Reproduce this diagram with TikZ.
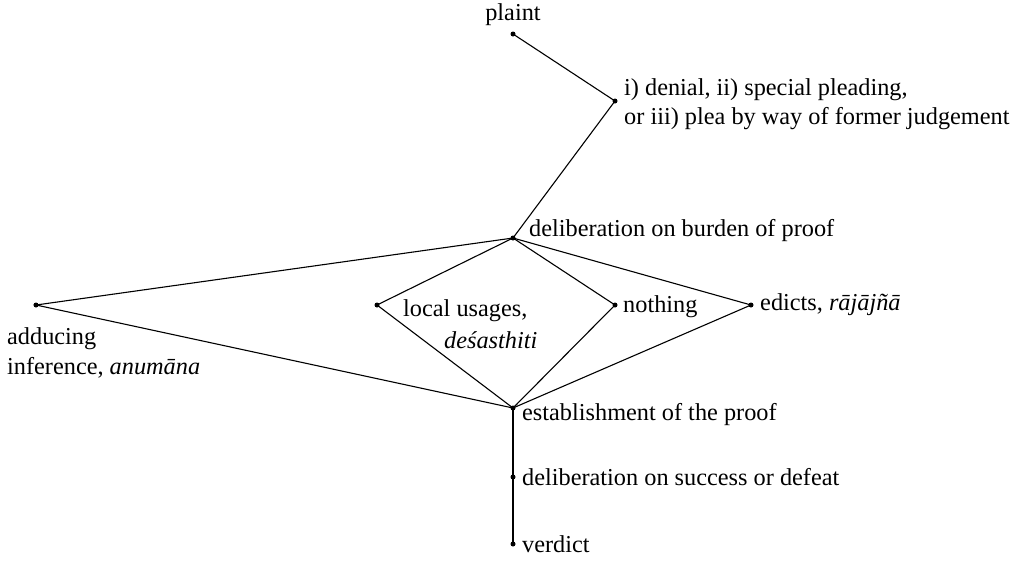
\documentclass[tikz,border=0pt]{standalone}
\usepackage{fontspec}
\setmainfont{Liberation Serif}
\begin{document}
\begin{tikzpicture}[x=1pt,y=-1pt,
  dot/.style={circle,fill,inner sep=0pt,minimum size=5pt},
  lbl/.style={anchor=base west,inner sep=0pt,font=\fontsize{24.3}{30}\selectfont},
  edge/.style={line width=1.1pt}]
\useasboundingbox (0,0) rectangle (1022,563);
% dots
\node[dot] (plaint) at (513,34) {};
\node[dot] (plea) at (615,101) {};
\node[dot] (burden) at (513,238) {};
\node[dot] (adduce) at (36,305) {};
\node[dot] (local) at (377,305) {};
\node[dot] (nothing) at (615,305) {};
\node[dot] (edicts) at (751,305) {};
\node[dot] (estab) at (513,408) {};
\node[dot] (success) at (513,477) {};
\node[dot] (verdict) at (513,544) {};
% labels
\node[lbl,anchor=base] (tplaint) at (513,20) {plaint};
\node[lbl] (tplea1) at (624,95) {i) denial, ii) special pleading,};
\node[lbl] (tplea2) at (624,124) {or iii) plea by way of former judgement};
\node[lbl] (tburden) at (529,236) {deliberation on burden of proof};
\node[lbl] (tadduce1) at (7,344) {adducing};
\node[lbl] (tadduce2) at (7,374) {inference, \textit{anumāna}};
\node[lbl] (tlocal1) at (403,316) {local usages,};
\node[lbl] (tlocal2) at (444,348) {\textit{deśasthiti}};
\node[lbl] (tnothing) at (623,312) {nothing};
\node[lbl] (tedicts) at (760,310) {edicts, \textit{rājājñā}};
\node[lbl] (testab) at (522,420) {establishment of the proof};
\node[lbl] (tsuccess) at (522,485) {deliberation on success or defeat};
\node[lbl] (tverdict) at (522,552) {verdict};
% edges
\draw[edge] (plaint.center) -- (plea.center) -- (burden.center);
\draw[edge] (burden.center) -- (adduce.center) -- (estab.center);
\draw[edge] (burden.center) -- (local.center) -- (estab.center);
\draw[edge] (burden.center) -- (nothing.center) -- (estab.center);
\draw[edge] (burden.center) -- (edicts.center) -- (estab.center);
\draw[edge] (estab.center) -- (success.center) -- (verdict.center);
\end{tikzpicture}
\end{document}
